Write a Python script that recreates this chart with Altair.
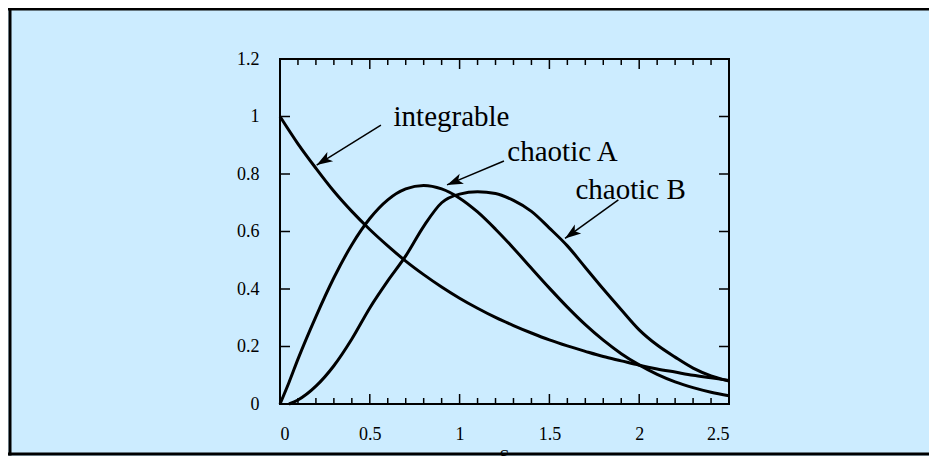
import math
import altair as alt
import pandas as pd

# ---- data ----
s_int = [0.0, 0.1, 0.2, 0.3, 0.4, 0.5, 0.6, 0.7, 0.8, 0.9, 1.0, 1.1, 1.2, 1.3, 1.4,
         1.5, 1.6, 1.7, 1.8, 1.9, 2.0, 2.1, 2.2, 2.3, 2.4, 2.5]
v_int = [1.0, 0.905, 0.82, 0.74, 0.67, 0.607, 0.55, 0.497, 0.45, 0.407, 0.368, 0.333,
         0.301, 0.273, 0.247, 0.223, 0.202, 0.183, 0.165, 0.15, 0.135, 0.122, 0.111,
         0.1, 0.091, 0.082]

s_a = [0.0, 0.05, 0.1, 0.2, 0.3, 0.4, 0.5, 0.6, 0.7, 0.8, 0.9, 1.0, 1.1, 1.2, 1.3, 1.4,
       1.5, 1.6, 1.7, 1.8, 1.9, 2.0, 2.1, 2.2, 2.3, 2.4, 2.5]
v_a = [0.0, 0.075, 0.156, 0.304, 0.439, 0.554, 0.645, 0.71, 0.748, 0.76, 0.748, 0.716,
       0.668, 0.608, 0.542, 0.472, 0.403, 0.337, 0.276, 0.222, 0.175, 0.136, 0.103,
       0.077, 0.057, 0.041, 0.029]

s_b = [0.05, 0.1, 0.2, 0.3, 0.4, 0.5, 0.6, 0.7, 0.8, 0.9, 1.0, 1.1, 1.2, 1.3, 1.4,
       1.5, 1.6, 1.7, 1.8, 1.9, 2.0, 2.1, 2.2, 2.3, 2.4, 2.5]
v_b = [0.0, 0.014, 0.062, 0.133, 0.226, 0.334, 0.428, 0.515, 0.618, 0.70, 0.73, 0.738,
       0.732, 0.708, 0.67, 0.612, 0.55, 0.475, 0.40, 0.328, 0.258, 0.205, 0.163,
       0.125, 0.098, 0.08]

x_major = [0, 0.5, 1, 1.5, 2, 2.5]
x_minor = [0.1, 0.2, 0.3, 0.4, 0.6, 0.7, 0.8, 0.9, 1.1, 1.2, 1.3, 1.4, 1.6, 1.7, 1.8,
           1.9, 2.1, 2.2, 2.3, 2.4]
y_major = [0, 0.2, 0.4, 0.6, 0.8, 1.0, 1.2]

labels = ["integrable", "chaotic A", "chaotic B"]
label_x = [0.955, 1.573, 1.952]
label_y = [0.967, 0.845, 0.713]
arrow_tail_x = [0.562, 1.247, 1.884]
arrow_tail_y = [0.970, 0.845, 0.710]
arrow_tip_x = [0.204, 0.930, 1.587]
arrow_tip_y = [0.831, 0.762, 0.576]

# ---- layout ----
W, H = 449, 345
XMAX, YMAX = 2.5, 1.2
FONT = "Liberation Serif"
BLUE = "#ccecff"

xs = alt.Scale(domain=[0, XMAX], nice=False, zero=False)
ys = alt.Scale(domain=[0, YMAX], nice=False, zero=False)

axis_common = dict(domain=False, ticks=False, grid=False, title=None,
                   labelFont=FONT, labelFontSize=18, labelColor="black",
                   labelPadding=21, format="~g", zindex=1)
xaxis = alt.Axis(values=x_major, **axis_common)
yaxis = alt.Axis(values=y_major, **axis_common)

curves = pd.concat([
    pd.DataFrame({"series": "integrable", "s": s_int, "v": v_int}),
    pd.DataFrame({"series": "chaotic A", "s": s_a, "v": v_a}),
    pd.DataFrame({"series": "chaotic B", "s": s_b, "v": v_b}),
])

one = pd.DataFrame({"k": [0]})

def border(**enc):
    return alt.Chart(one).mark_rule(color="black", strokeWidth=3).encode(**enc)

borders = [
    border(x=alt.value(-272), x2=alt.value(660), y=alt.value(-50)),
    border(x=alt.value(-272), x2=alt.value(660), y=alt.value(395)),
    border(x=alt.value(-270), y=alt.value(-51.5), y2=alt.value(396.5)),
]

frame = alt.Chart(one).mark_rect(fillOpacity=0, stroke="black", strokeWidth=2).encode(
    x=alt.value(0), x2=alt.value(W), y=alt.value(0), y2=alt.value(H))

dxM = pd.DataFrame({"s": x_major})
dxm = pd.DataFrame({"s": x_minor})
dyM = pd.DataFrame({"v": y_major})

def xticks(df, y0, y1):
    return alt.Chart(df).mark_rule(color="black", strokeWidth=1.5).encode(
        x=alt.X("s:Q", scale=xs, axis=xaxis), y=alt.value(y0), y2=alt.value(y1))

def yticks(df, x0, x1):
    return alt.Chart(df).mark_rule(color="black", strokeWidth=1.5).encode(
        y=alt.Y("v:Q", scale=ys, axis=yaxis), x=alt.value(x0), x2=alt.value(x1))

ticks = [
    xticks(dxM, H, H - 10), xticks(dxm, H, H - 6),
    xticks(dxM, 0, 10), xticks(dxm, 0, 6),
    yticks(dyM, 0, 10), yticks(dyM, W, W - 10),
]

lines = alt.Chart(curves).mark_line(color="black", strokeWidth=3,
                                    interpolate="monotone").encode(
    x=alt.X("s:Q", scale=xs, axis=xaxis),
    y=alt.Y("v:Q", scale=ys, axis=yaxis),
    detail="series:N",
)

px_s = W / XMAX
px_v = H / YMAX
angles = []
for tx, ty, hx, hy in zip(arrow_tail_x, arrow_tail_y, arrow_tip_x, arrow_tip_y):
    dx = (hx - tx) * px_s
    dy = -(hy - ty) * px_v
    angles.append(math.degrees(math.atan2(dx, -dy)) % 360)

arr = pd.DataFrame({"s": arrow_tail_x, "v": arrow_tail_y,
                    "s2": arrow_tip_x, "v2": arrow_tip_y, "ang": angles})

shafts = alt.Chart(arr).mark_rule(color="black", strokeWidth=1.5).encode(
    x=alt.X("s:Q", scale=xs, axis=xaxis), y=alt.Y("v:Q", scale=ys, axis=yaxis),
    x2="s2:Q", y2="v2:Q")

heads = alt.Chart(arr).mark_point(
    shape="M0,0 L-0.34,1 L0,0.75 L0.34,1 Z", filled=True, size=1024,
    color="black", opacity=1).encode(
    x=alt.X("s2:Q", scale=xs, axis=xaxis), y=alt.Y("v2:Q", scale=ys, axis=yaxis),
    angle=alt.Angle("ang:Q", scale=None))

lab = pd.DataFrame({"t": labels, "s": label_x, "v": label_y})
texts = alt.Chart(lab).mark_text(font=FONT, fontSize=29, color="black",
                                 align="center", baseline="alphabetic").encode(
    x=alt.X("s:Q", scale=xs, axis=xaxis), y=alt.Y("v:Q", scale=ys, axis=yaxis),
    text="t:N")

s_title = alt.Chart(one).mark_text(font=FONT, fontSize=18, color="black",
                                   align="center", baseline="top", text="S").encode(
    x=alt.value(W / 2), y=alt.value(H + 45))

chart = alt.layer(*borders, frame, *ticks, lines, shafts, heads, texts,
                  s_title).properties(
    width=W, height=H,
    autosize=alt.AutoSizeParams(type="none"),
    padding={"left": 272, "top": 51, "right": 200, "bottom": 52},
    background=BLUE,
).configure_view(stroke=None)

chart.save("out.html", embed_options={"renderer": "svg", "actions": False})
